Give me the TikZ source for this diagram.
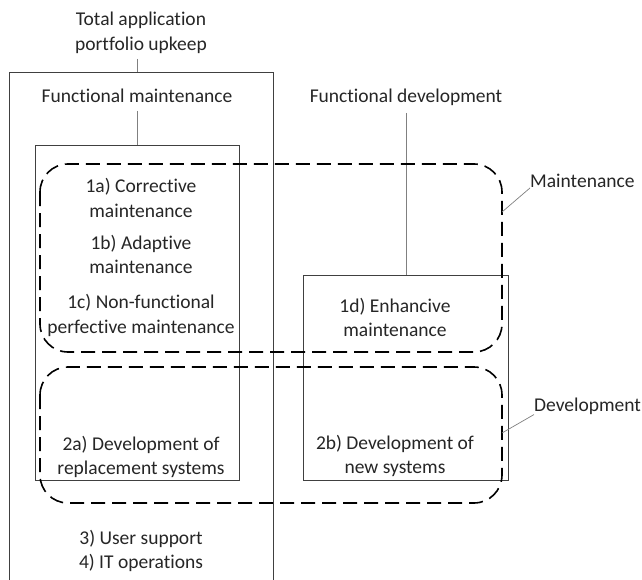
\documentclass[tikz,border=0pt]{standalone}
\usepackage{fontspec}
\setmainfont[Ligatures={NoCommon,NoRare}]{Carlito}
\begin{document}
\begin{tikzpicture}[x=1pt,y=-1pt,
  txt/.style={align=center,inner sep=0pt,font=\fontsize{19.5}{24.5}\selectfont,text=black!85},
  box/.style={draw=black!75,line width=0.8pt,inner sep=0pt},
  conn/.style={draw=black!50,line width=0.7pt},
  dashbox/.style={draw=black,line width=1.6pt,dash pattern=on 14pt off 7pt,rounded corners=28pt}]
\useasboundingbox (0,0) rectangle (642,580);
\fill[white] (0,0) rectangle (642,580);
% outer box
\coordinate (obl) at (9,580);
\coordinate (otl) at (9,72);
\coordinate (otr) at (273,72);
\coordinate (obr) at (273,580);
\coordinate (otop) at (137,72);
\draw[box] (obl) -- (otl) -- (otr) -- (obr);
\node[txt] (total) at (141,33) {Total application\\portfolio upkeep};
\coordinate (tc) at (137,59);
\draw[conn] (tc) -- (otop);
% functional maintenance
\node[txt] (fmlab) at (137,96) {Functional maintenance};
\node[box,minimum width=204pt,minimum height=335pt] (fm) at (137,312.5) {};
\coordinate (fc) at (137,111);
\draw[conn] (fc) -- (fm.north);
% functional development
\node[txt] (fdlab) at (406,97) {Functional development};
\node[box,minimum width=205pt,minimum height=205pt] (fd) at (405.5,377.5) {};
\coordinate (dc) at (406,113);
\draw[conn] (dc) -- (dc |- fd.north);
% dashed groups
\coordinate (m1) at (40,164);
\coordinate (m2) at (502,352);
\coordinate (d1) at (40,367);
\coordinate (d2) at (502,503);
\draw[dashbox] (m1) rectangle (m2);
\draw[dashbox] (d1) rectangle (d2);
\node[txt,anchor=west] (mlab) at (530,181) {Maintenance};
\node[txt,anchor=west] (dlab) at (534,406) {Development};
\coordinate (mp) at (502,212);
\coordinate (dp) at (502,433);
\draw[conn] (mp) -- (mlab.south west);
\draw[conn] (dp) -- (dlab.south west);
% item texts
\node[txt] (t1a) at (141,198) {1a) Corrective\\maintenance};
\node[txt] (t1b) at (141,254.5) {1b) Adaptive\\maintenance};
\node[txt] (t1c) at (141,315.5) {1c) Non-functional\\perfective maintenance};
\node[txt] (t1d) at (395,317.5) {1d) Enhancive\\maintenance};
\node[txt] (t2a) at (141,457) {2a) Development of\\replacement systems};
\node[txt] (t2b) at (395,456) {2b) Development of\\new systems};
\node[txt] (t34) at (141,551) {3) User support\\4) IT operations};
\end{tikzpicture}
\end{document}
